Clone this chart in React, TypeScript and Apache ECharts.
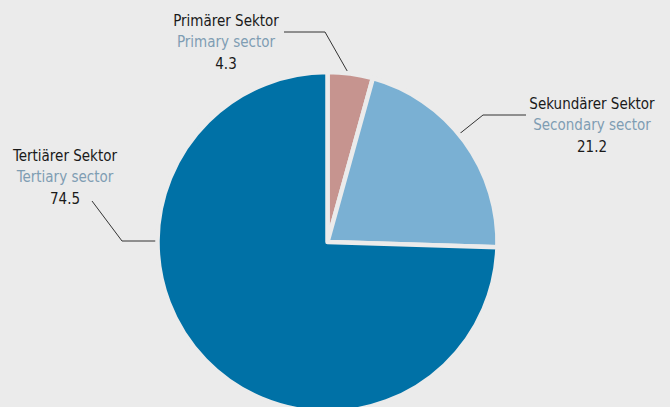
import React, { useEffect, useRef } from "react";
import * as echarts from "echarts";

const labelsDe = ["Primärer Sektor", "Sekundärer Sektor", "Tertiärer Sektor"];
const labelsEn = ["Primary sector", "Secondary sector", "Tertiary sector"];
const values = [4.3, 21.2, 74.5];
const colors = ["#c6948f", "#7ab0d3", "#0071a6"];

// label anchor positions (center x, middle y) and leader line points
const labelPos = [
  [226, 42],
  [592, 125],
  [65, 177],
];
const linePts = [
  [[350, 76], [325, 32], [284, 32]],
  [[458, 135], [483, 115], [526, 115]],
  [[161, 241], [122, 241], [92, 201]],
];

export default function App() {
  const ref = useRef<HTMLDivElement>(null);
  useEffect(() => {
    const chart = echarts.init(ref.current!, undefined, { renderer: "svg" });
    const font = '"Liberation Sans Narrow", "DejaVu Sans Condensed", Roboto, sans-serif';
    chart.setOption({
      animation: false,
      backgroundColor: "#ebebeb",
      series: [
        {
          type: "pie",
          center: [327.5, 242],
          radius: 170,
          startAngle: 90,
          clockwise: true,
          data: values.map((v, i) => ({
            value: v,
            name: labelsDe[i],
            itemStyle: { color: colors[i] },
          })),
          itemStyle: { borderColor: "#ebebeb", borderWidth: 4.5 },
          label: {
            show: true,
            formatter: (p: any) =>
              `{de|${labelsDe[p.dataIndex]}}\n{en|${labelsEn[p.dataIndex]}}\n{v|${values[p.dataIndex].toFixed(1)}}`,
            align: "center",
            rich: {
              de: { fontFamily: font, fontSize: 15, color: "#1a1a1a", lineHeight: 21.5, align: "center" },
              en: { fontFamily: font, fontSize: 15, color: "#7f9db3", lineHeight: 21.5, align: "center" },
              v: { fontFamily: font, fontSize: 15, color: "#1a1a1a", lineHeight: 21.5, align: "center" },
            },
          },
          labelLine: {
            show: true,
            lineStyle: { color: "#333", width: 1 },
          },
          labelLayout: (params: any) => {
            const i = params.dataIndex;
            return {
              x: labelPos[i][0],
              y: labelPos[i][1],
              align: "center",
              verticalAlign: "middle",
              labelLinePoints: linePts[i],
            };
          },
          emphasis: { disabled: true },
        },
      ],
    });
    return () => chart.dispose();
  }, []);
  return (
    <div
      ref={ref}
      style={{ position: "fixed", left: 0, top: 0, width: 670, height: 407 }}
    />
  );
}
